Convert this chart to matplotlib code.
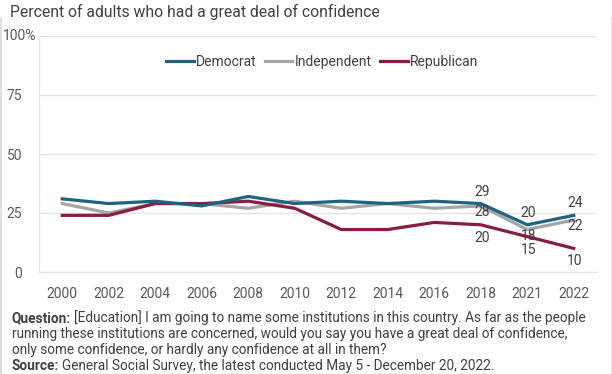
import matplotlib
matplotlib.use("Agg")
import matplotlib.pyplot as plt
from matplotlib.lines import Line2D

plt.rcParams['font.family'] = ['Roboto', 'DejaVu Sans']

years = ['2000', '2002', '2004', '2006', '2008', '2010', '2012', '2014', '2016', '2018', '2021', '2022']
democrat = [31, 29, 30, 28, 32, 29, 30, 29, 30, 29, 20, 24]
independent = [29, 25, 29, 29, 27, 30, 27, 29, 27, 28, 18, 22]
republican = [24, 24, 29, 29, 30, 27, 18, 18, 21, 20, 15, 10]
labeled_idx = [9, 10, 11]
yticks = [0, 25, 50, 75, 100]
ytick_labels = ['0', '25', '50', '75', '100%']

c_dem = '#1F6382'
c_ind = '#A5A5A5'
c_rep = '#8A1C3F'
txt = '#404040'

W, H = 612, 374
fig = plt.figure(figsize=(W / 100, H / 100), dpi=100)
ax = fig.add_axes([39 / W, 1 - 272 / H, (597 - 39) / W, (272 - 36) / H])

x = list(range(len(years)))
lw = 2.3
ax.plot(x, independent, color=c_ind, lw=lw, solid_joinstyle='miter', zorder=3)
ax.plot(x, republican, color=c_rep, lw=lw, solid_joinstyle='miter', zorder=3)
ax.plot(x, democrat, color=c_dem, lw=lw, solid_joinstyle='miter', zorder=4)

ax.set_xlim(-0.5, len(years) - 0.5)
ax.set_ylim(0, 100)
ax.set_xticks(x)
ax.set_xticklabels(years)
ax.set_yticks(yticks)
# last label ("100%") drawn separately so that its % hangs past the others
ax.set_yticklabels(ytick_labels[:-1] + [''])
ax.tick_params(axis='both', length=0, labelsize=10, labelcolor='#595959')
ax.tick_params(axis='x', pad=11)
ax.tick_params(axis='y', pad=12)
ax.annotate(ytick_labels[-1], xy=(0, yticks[-1]), xycoords=('axes fraction', 'data'),
            xytext=(-3, 0), textcoords='offset pixels', ha='right', va='center',
            fontsize=10, color='#595959', annotation_clip=False)
ax.grid(axis='y', color='#E3E3E3', lw=1)
ax.set_axisbelow(True)
for s in ['top', 'right']:
    ax.spines[s].set_visible(False)
ax.spines['left'].set_color('#E3E3E3')
ax.spines['bottom'].set_color('#E3E3E3')

# data labels
for i in labeled_idx:
    ax.annotate(str(democrat[i]), xy=(i, democrat[i]), xytext=(1, 12), textcoords='offset pixels',
                ha='center', va='center', fontsize=10, color=txt, zorder=5)
    ax.annotate(str(independent[i]), xy=(i, independent[i]), xytext=(1, -6), textcoords='offset pixels',
                ha='center', va='center', fontsize=10, color=txt, zorder=5)
    ax.annotate(str(republican[i]), xy=(i, republican[i]), xytext=(1, -13), textcoords='offset pixels',
                ha='center', va='center', fontsize=10, color=txt, zorder=5)

handles = [Line2D([], [], color=c_dem, lw=lw),
           Line2D([], [], color=c_ind, lw=lw),
           Line2D([], [], color=c_rep, lw=lw)]
fig.legend(handles, ['Democrat', 'Independent', 'Republican'], loc='center',
           bbox_to_anchor=(322 / W, 1 - 62 / H), ncol=3, frameon=False,
           fontsize=10, handlelength=2.0, handletextpad=0.15, columnspacing=0.6,
           labelcolor='#404040')

fig.text(10 / W, 1 - 12 / H, 'Percent of adults who had a great deal of confidence',
         ha='left', va='center', fontsize=11.3, color=txt)

foot_lines = [
    ('Question:', '[Education] I am going to name some institutions in this country. As far as the people'),
    (None, 'running these institutions are concerned, would you say you have a great deal of confidence,'),
    (None, 'only some confidence, or hardly any confidence at all in them?'),
    ('Source:', 'General Social Survey, the latest conducted May 5 - December 20, 2022.'),
]
ys = [318, 334, 350, 366]
renderer = fig.canvas.get_renderer()
for (b, rest), yy in zip(foot_lines, ys):
    xpos = 12 / W
    if b:
        tb = fig.text(xpos, 1 - yy / H, b, ha='left', va='center', fontsize=9.8,
                      fontweight='bold', color=txt)
        bb = tb.get_window_extent(renderer)
        xpos = (bb.x1 + 3) / W
    fig.text(xpos, 1 - yy / H, rest, ha='left', va='center', fontsize=9.8, color=txt)

fig.add_artist(Line2D([0.5 / W, 0.5 / W], [0, 1 - 18 / H], color='#D9D9D9', lw=1.2))
fig.add_artist(Line2D([1 - 0.5 / W, 1 - 0.5 / W], [0, 1 - 18 / H], color='#D9D9D9', lw=1.2))

fig.savefig('out.png', dpi=100)
